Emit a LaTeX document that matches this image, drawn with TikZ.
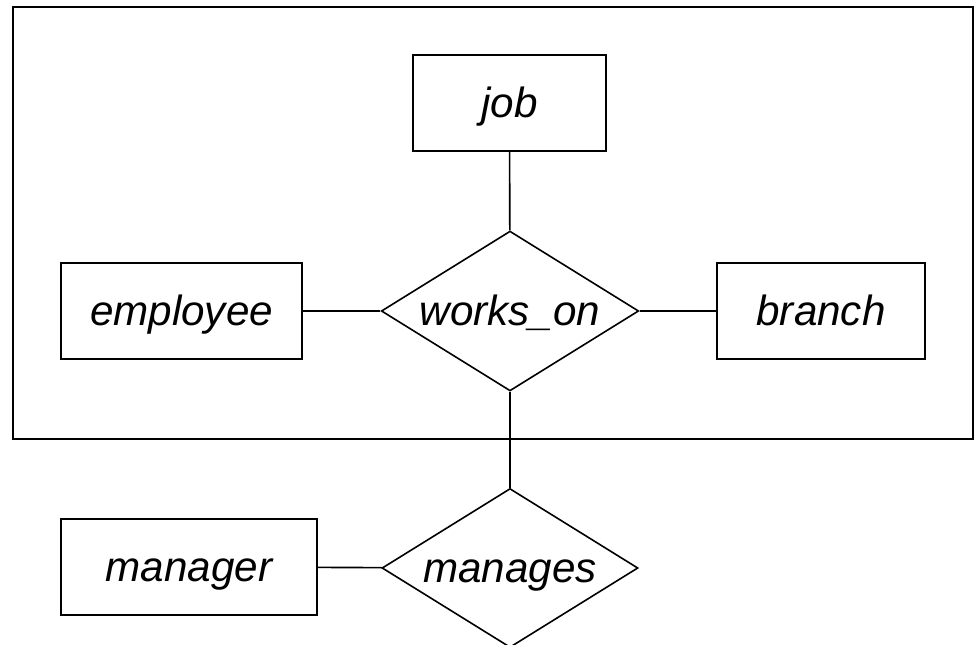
\documentclass[tikz,border=0pt]{standalone}
\usepackage{fontspec}
\setmainfont{Liberation Sans}
\usetikzlibrary{shapes.geometric}
\begin{document}
\begin{tikzpicture}[x=1pt,y=-1pt,
  every node/.style={font=\fontsize{42.2}{50}\selectfont\itshape, text height=38.8pt, text depth=8.9pt},
  entity/.style={draw, line width=1.6pt, rectangle, inner sep=0pt, minimum height=96pt},
  relation/.style={draw, line width=1.6pt, diamond, aspect=1.61, inner sep=0pt, minimum width=256pt, minimum height=159pt},
  link/.style={line width=1.6pt}]
\useasboundingbox (0,0) rectangle (977,645);
\clip (0,0) rectangle (977,645);
\node[draw, line width=1.6pt, rectangle, inner sep=0pt, minimum width=960pt, minimum height=432pt, text height=, text depth=] (agg) at (493,223) {};
\node[entity, minimum width=193pt] (job) at (509.5,103) {job};
\node[entity, minimum width=241pt] (emp) at (181.5,311) {employee};
\node[entity, minimum width=208pt] (br) at (821,311) {branch};
\node[relation] (wo) at (510,311) {works\_on};
\node[entity, minimum width=256pt] (mgr) at (189,567) {manager};
\node[relation] (mg) at (510,568) {manages};
\draw[link] (job) -- (wo);
\draw[link] (emp) -- (wo);
\draw[link] (wo) -- (br);
\draw[link] (wo) -- (mg);
\draw[link] (mgr) -- (mg);
\end{tikzpicture}
\end{document}
